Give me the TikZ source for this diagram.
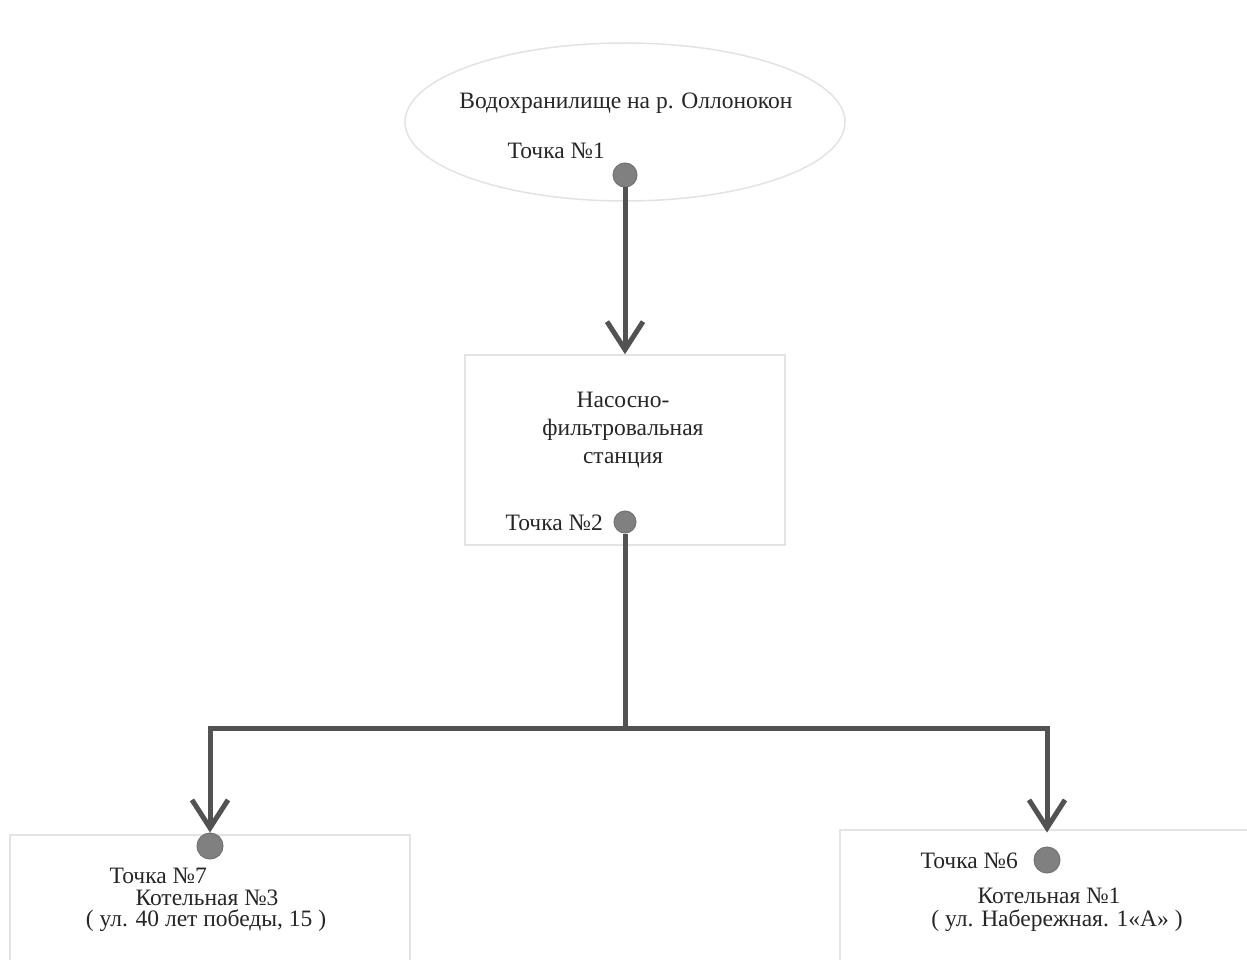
\documentclass[tikz,border=0pt]{standalone}
\usepackage{fontspec}
\setmainfont{Liberation Serif}
\usetikzlibrary{arrows.meta,shapes.geometric}
\tikzset{
  lbl/.style={font=\fontsize{23.5}{28}\selectfont, text=black!85, inner sep=0pt},
  dot/.style={circle, fill=black!50, draw=black!55, line width=1pt, minimum size=24pt, inner sep=0pt},
  pipe/.style={draw=black!68, line width=5pt},
  arr/.style={pipe, -{Straight Barb[length=28pt, width=36pt, line width=5pt]}},
  faint/.style={draw=black!11, line width=1.5pt}
}
\begin{document}
\begin{tikzpicture}[x=1pt,y=-1pt]
\useasboundingbox (0,0) rectangle (1247,960);
\fill[white] (0,0) rectangle (1247,960);
% reservoir
\node[ellipse, faint, minimum width=440pt, minimum height=158pt] (res) at (625,122) {};
\node[lbl] (resT) at (626,103) {Водохранилище на р. Оллонокон};
\node[lbl, anchor=east] (t1) at (605,151) {Точка №1};
\node[dot] (d1) at (625,175) {};
% station box
\node[rectangle, faint, minimum width=320pt, minimum height=190pt] (st) at (625,450) {};
\node[lbl, align=center] (stT) at (623,430) {Насосно-\\фильтровальная\\станция};
\node[lbl, anchor=east] (t2) at (603,523) {Точка №2};
\node[dot, minimum size=22pt] (d2) at (625,522) {};
% bottom boxes
\node[rectangle, faint, minimum width=400pt, minimum height=160pt] (kb3) at (210,915) {};
\node[rectangle, faint, minimum width=420pt, minimum height=160pt] (kb1) at (1050,910) {};
\node[dot, minimum size=26pt] (d7) at (210,846) {};
\node[dot, minimum size=26pt] (d6) at (1047,860) {};
\node[lbl, anchor=east] (t7) at (207,876) {Точка №7};
\node[lbl] (k3) at (207,898) {Котельная №3};
\node[lbl] (a3) at (206,921) {( ул. 40 лет победы, 15 )};
\node[lbl, anchor=east] (t6) at (1018,861) {Точка №6};
\node[lbl] (k1) at (1049,896) {Котельная №1};
\node[lbl] (a1) at (1057,921) {( ул. Набережная. 1«А» )};
% connectors
\coordinate (j) at (625,728);
\draw[arr] (d1) -- (st.north);
\draw[pipe] (d2) -- (j);
\draw[arr] (j) -| (d7.north);
\draw[arr, shorten >=14pt] (j) -| (d6.north);
\end{tikzpicture}
\end{document}
